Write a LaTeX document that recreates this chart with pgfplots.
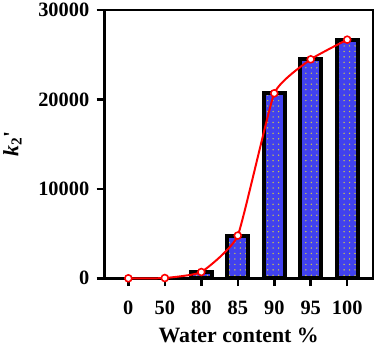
\documentclass[border=0pt]{standalone}
\usepackage{fontspec}
\setmainfont{Liberation Serif}
\usepackage{pgfplots}
\pgfplotsset{compat=1.18}
\usetikzlibrary{patterns.meta}

\definecolor{barblue}{HTML}{4141EE}
\definecolor{dotyellow}{HTML}{C8C450}

\begin{document}
\begin{tikzpicture}
\begin{axis}[
    scale only axis,
    width=270pt, height=270pt,
    xmin=-0.65, xmax=6.7,
    ymin=0, ymax=30000,
    xtick={0,1,2,3,4,5,6},
    xticklabels={0,50,80,85,90,95,100},
    ytick={0,10000,20000,30000},
    scaled y ticks=false,
    /pgf/number format/assume math mode=true,
    /pgf/number format/set thousands separator={},
    tick label style={font=\fontsize{20.5}{23}\selectfont\bfseries},
    label style={font=\fontsize{22}{26}\selectfont\bfseries},
    xlabel={Water content \%},
    ylabel={\textit{k}\textsubscript{2}\textquotesingle},
    axis line style={line width=2.5pt},
    tick style={line width=2.5pt, black},
    major tick length=8pt,
    tick align=outside,
    xtick pos=bottom, ytick pos=left,
    xticklabel style={yshift=-11pt},
    yticklabel style={xshift=-4pt},
    xlabel style={yshift=-7pt},
    ylabel style={yshift=10pt},
    clip=false,
]
\addplot[ybar, bar width=21pt, draw=black, line width=4pt, fill=barblue,
    postaction={pattern={Dots[distance=5.5pt, radius=0.8pt]}, pattern color=dotyellow}]
  coordinates {(2,700)(3,4780)(4,20700)(5,24500)(6,26700)};
\addplot[red, line width=2pt, smooth, tension=0.25, mark=*, mark size=3.5pt,
    mark options={fill=white, draw=red, line width=1.6pt}]
  coordinates {(0,0)(1,30)(2,700)(3,4780)(4,20700)(5,24500)(6,26700)};
\end{axis}
\end{tikzpicture}
\end{document}
